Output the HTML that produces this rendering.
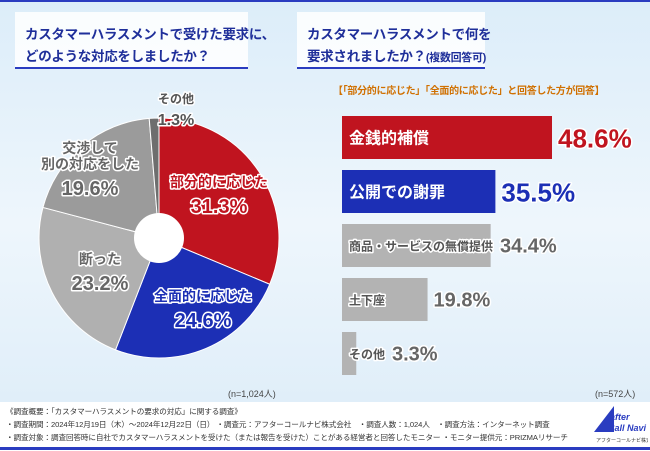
<!DOCTYPE html>
<html><head><meta charset="utf-8"><style>
body{margin:0;width:650px;height:450px;overflow:hidden;font-family:"Liberation Sans","Noto Sans CJK JP",sans-serif;}
#root{position:relative;width:650px;height:450px;background:linear-gradient(180deg,#dcedf9 0%,#eef6fc 50%,#dcecf8 100%);}
.tb{position:absolute;background:rgba(255,255,255,0.85);border-bottom:2px solid #2a3cc0;color:#1f2f9a;font-size:13.5px;font-weight:bold;line-height:22px;padding:12px 0 0 10px;box-sizing:border-box;white-space:nowrap;letter-spacing:-0.3px;}
.out{paint-order:stroke;stroke:#fff;stroke-width:3px;stroke-linejoin:round;font-weight:bold;}
</style></head><body>
<div id="root">
<div style="position:absolute;left:0;top:0;width:650px;height:2px;background:#2a3cc0"></div>
<div class="tb" style="left:15px;top:12px;width:233px;height:57px">カスタマーハラスメントで受けた要求に、<br>どのような対応をしましたか？</div>
<div class="tb" style="left:297px;top:12px;width:188px;height:57px">カスタマーハラスメントで何を<br>要求されましたか？<span style="font-size:11px">(複数回答可)</span></div>
<div style="position:absolute;left:333px;top:82px;font-size:10px;color:#d07000;font-weight:bold;white-space:nowrap;letter-spacing:-0.3px">【「部分的に応じた」「全面的に応じた」と回答した方が回答】</div>
<svg id="chart" width="650" height="450" style="position:absolute;left:0;top:0"></svg>
<div style="position:absolute;left:228px;top:387px;font-size:9px;color:#444">(n=1,024人)</div>
<div style="position:absolute;left:595px;top:387px;font-size:9px;color:#444">(n=572人)</div>
<div style="position:absolute;left:0;top:402px;width:650px;height:46px;background:#fff">
<div style="position:absolute;left:6px;top:3px;font-size:7.6px;line-height:13px;color:#333;white-space:nowrap;letter-spacing:-0.1px">《調査概要：「カスタマーハラスメントの要求の対応」に関する調査》<br>・調査期間：2024年12月19日（木）～2024年12月22日（日） ・調査元：アフターコールナビ株式会社　・調査人数：1,024人　・調査方法：インターネット調査<br>・調査対象：調査回答時に自社でカスタマーハラスメントを受けた（または報告を受けた）ことがある経営者と回答したモニター ・モニター提供元：PRIZMAリサーチ</div>
<div style="position:absolute;left:592px;top:4px;width:56px;height:40px"><svg width="56" height="40"><polygon points="22,0 2,26 22,26" fill="#2a3cc0"/><text x="18" y="14" font-size="9" font-style="italic" font-weight="bold" fill="#2a3cc0">after</text><text x="16" y="25" font-size="9" font-style="italic" font-weight="bold" fill="#2a3cc0">Call Navi</text><text x="4" y="36" font-size="5" fill="#333">アフターコールナビ株式会社</text></svg></div>
</div>
<div style="position:absolute;left:0;top:447px;width:650px;height:3px;background:#2a3cc0"></div>
</div>
<script>
const pieLabels=["部分的に応じた","全面的に応じた","断った","交渉して別の対応をした","その他"];
const pieValues=[31.3,24.6,23.2,19.6,1.3];
const pieColors=["#c0141f","#1c2fb5","#b0b0b0","#9b9b9b","#6e6e6e"];
const barLabels=["金銭的補償","公開での謝罪","商品・サービスの無償提供","土下座","その他"];
const barValues=[48.6,35.5,34.4,19.8,3.3];
const barColors=["#c0141f","#1c2fb5","#b3b3b3","#b3b3b3","#b3b3b3"];
const NS="http://www.w3.org/2000/svg";
const svg=document.getElementById('chart');
function mk(t,a){const e=document.createElementNS(NS,t);for(const k in a)e.setAttribute(k,a[k]);svg.appendChild(e);return e;}
const cx=159,cy=238,R=120,total=pieValues.reduce((a,b)=>a+b,0);
function pt(a,r){return [cx+r*Math.sin(a),cy-r*Math.cos(a)];}
let acc=0;
pieValues.forEach((v,i)=>{
 const a0=acc/total*2*Math.PI;acc+=v;const a1=acc/total*2*Math.PI;
 const p0=pt(a0,R),p1=pt(a1,R);
 const e=mk('path',{d:`M${cx},${cy}L${p0[0]},${p0[1]}A${R},${R} 0 ${a1-a0>Math.PI?1:0} 1 ${p1[0]},${p1[1]}Z`,fill:pieColors[i],stroke:'#fff','stroke-width':1});
 
 
});
mk('circle',{cx:cx,cy:cy,r:25,fill:'#fff'});
const pl=[[219,187,'#c0141f',14,20],[203,301,'#1c2fb5',14,20],[100,264,'#666',14,20],[90,153,'#666',14,20],[176,103,'#555',12,16]];
const pieText=[["部分的に応じた"],["全面的に応じた"],["断った"],["交渉して","別の対応をした"],["その他"]];
pl.forEach((p,i)=>{
 let y=p[1];
 pieText[i].forEach(l=>{const t=mk('text',{x:p[0],y:y,'text-anchor':'middle','font-size':p[3],fill:p[2],class:'out'});t.textContent=l;y+=16;});
 const t=mk('text',{x:p[0],y:y+p[4]-10,'text-anchor':'middle','font-size':p[4],fill:p[2],class:'out'});
 t.textContent=pieValues[i]+'%';
 
 
});
const bx=342,scale=210/48.6,by0=116,bstep=54,bh=43;
barValues.forEach((v,i)=>{
 const y=by0+i*bstep,w=v*scale;
 const r=mk('rect',{x:bx,y:y,width:w,height:bh,fill:barColors[i]});
 
 
 const big=i<2;
 const lt=mk('text',{x:bx+7,y:y+bh/2+(big?6:5),'font-size':big?16:12,fill:big?'#fff':'#555','font-weight':'bold'});
 if(!big){lt.setAttribute('class','out');}
 lt.textContent=barLabels[i];
 const lw=big?0:barLabels[i].length*12+14;
 const vx=Math.max(bx+w+6,bx+lw);
 const vt=mk('text',{x:vx,y:y+bh/2+(big?10:7),'font-size':big?26:20,fill:big?barColors[i]:'#666',class:'out'});
 vt.textContent=v+'%';
 
 
});
</script>
</body></html>
